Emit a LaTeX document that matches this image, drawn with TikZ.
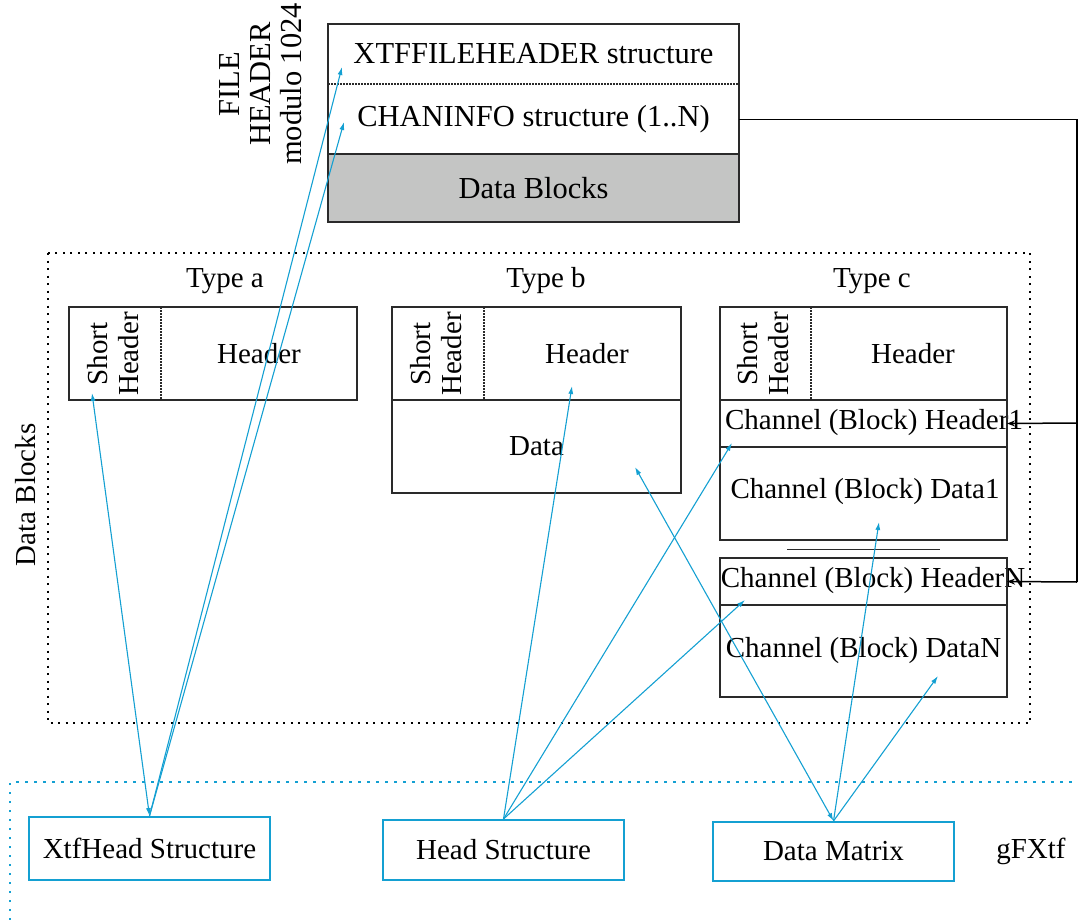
\documentclass[tikz,border=0pt]{standalone}
\usepackage{fontspec}
\setmainfont{Liberation Serif}
\usetikzlibrary{arrows.meta}
\definecolor{cy}{HTML}{14A0D2}
\definecolor{gb}{HTML}{C4C5C4}
\definecolor{ln}{HTML}{2A2A2A}
\begin{document}
\begin{tikzpicture}[x=1pt,y=-1pt,
  font=\fontsize{29}{31}\selectfont,
  bigfont/.style={font=\fontsize{30.5}{31}\selectfont},
  cell/.style={rectangle, inner sep=0pt, outer sep=0pt},
  txt/.style={inner sep=0pt, align=center},
  box/.style={draw=ln, line width=1.3pt},
  fdot/.style={draw=ln, line width=1.3pt, dash pattern=on 1.5pt off 1.5pt},
  bigdot/.style={draw=black, line width=2pt, dash pattern=on 2pt off 5.5pt},
  cydot/.style={draw=cy, line width=2.5pt, dash pattern=on 2.5pt off 6.5pt},
  bbox/.style={rectangle, draw=cy, line width=2pt, minimum width=241pt, inner sep=0pt},
  carrow/.style={draw=cy, line width=1.1pt, >={Latex[length=8pt,width=5pt]}},
  barrow/.style={draw=black, line width=1.5pt, >={Stealth[length=8pt,width=6pt]}}]
\useasboundingbox (0,0) rectangle (1078,920);

% ---------- file header box ----------
\node[cell, bigfont, minimum width=411pt, minimum height=60pt] (xtfh) at (533.5,54) {XTFFILEHEADER structure};
\node[cell, bigfont, minimum width=411pt, minimum height=69pt] (chan) at (533.5,119.5) {CHANINFO structure (1..N)};
\node[cell, bigfont, fill=gb, minimum width=411pt, minimum height=68pt] (dblk) at (533.5,188) {Data Blocks};
\draw[box] (xtfh.north west) rectangle (dblk.south east);
\draw[fdot] (xtfh.south west) -- (xtfh.south east);
\draw[box] (chan.south west) -- (chan.south east);
\node[txt, bigfont, rotate=90] (fhl) at (261,84) {FILE\\HEADER\\modulo 1024};

% ---------- data blocks region ----------
\node[cell, minimum width=982pt, minimum height=470pt] (dbk) at (539,488) {};
\draw[bigdot] (dbk.north west) rectangle (dbk.south east);
\node[txt, rotate=90] (dbl) at (26,495) {Data Blocks};

% type a
\node[txt] (ta) at (225,281) {Type a};
\node[cell, minimum width=92pt, minimum height=93pt] (shorta) at (115,353.5) {};
\node[cell, minimum width=196pt, minimum height=93pt] (heada) at (259,353.5) {Header};
\node[txt, rotate=90] (sha) at (113,354) {Short\\Header};
\draw[box] (shorta.north west) rectangle (heada.south east);
\draw[fdot] (shorta.north east) -- (shorta.south east);

% type b
\node[txt] (tb) at (546,281) {Type b};
\node[cell, minimum width=92pt, minimum height=93pt] (shortb) at (438,353.5) {};
\node[cell, minimum width=197pt, minimum height=93pt] (headb) at (587,353.5) {Header};
\node[txt, rotate=90] (shb) at (436,354) {Short\\Header};
\node[cell, minimum width=289pt, minimum height=93pt] (datab) at (536.5,446.5) {Data};
\draw[box] (shortb.north west) rectangle (datab.south east);
\draw[box] (datab.north west) -- (datab.north east);
\draw[fdot] (shortb.north east) -- (shortb.south east);

% type c
\node[txt] (tc) at (872,281) {Type c};
\node[cell, minimum width=91pt, minimum height=93pt] (shortc) at (765.5,353.5) {};
\node[cell, minimum width=196pt, minimum height=93pt] (headc) at (913,353.5) {Header};
\node[txt, rotate=90] (shc) at (763,354) {Short\\Header};
\node[cell, minimum width=287pt, minimum height=47pt] (ch1) at (863.5,423.5) {};
\node[txt] (ch1t) at (874,423) {Channel (Block) Header1};
\node[cell, minimum width=287pt, minimum height=93pt] (cd1) at (863.5,493.5) {};
\node[txt] (cd1t) at (865,492) {Channel (Block) Data1};
\draw[box] (shortc.north west) rectangle (cd1.south east);
\draw[box] (ch1.north west) -- (ch1.north east);
\draw[box] (ch1.south west) -- (ch1.south east);
\draw[fdot] (shortc.north east) -- (shortc.south east);
\coordinate (sepL) at (787,549);
\coordinate (sepR) at (940,549);
\draw[draw=ln, line width=1pt] (sepL) -- (sepR);
\node[cell, minimum width=287pt, minimum height=47pt] (chN) at (863.5,581.5) {};
\node[txt] (chNt) at (873,581) {Channel (Block) HeaderN};
\node[cell, minimum width=287pt, minimum height=92pt] (cdN) at (863.5,651) {Channel (Block) DataN};
\draw[box] (chN.north west) rectangle (cdN.south east);
\draw[box] (chN.south west) -- (chN.south east);

% black bus from CHANINFO
\coordinate (r1) at (1077,423);
\coordinate (rN) at (1077,582);
\draw[barrow] (chan.east) -| (rN);
\draw[barrow,->] (r1) -- (ch1.east);
\draw[barrow,->] (rN) -- (chN.east);

% ---------- gFXtf region ----------
\coordinate (gbl) at (10,920);
\coordinate (gtr) at (1078,782);
\draw[cydot] (gbl) |- (gtr);
\node[bbox, minimum height=63pt] (xtf) at (149.5,848.5) {XtfHead Structure};
\node[bbox, minimum height=60pt] (head) at (503.5,850) {Head Structure};
\node[bbox, minimum height=59pt] (dm) at (833.5,851.5) {Data Matrix};
\node[txt] (gfx) at (1031,851) {gFXtf};

% ---------- cyan connectors ----------
\coordinate (tA) at (92,393);
\coordinate (tX) at (342,67);
\coordinate (tC) at (344,122);
\coordinate (tBh) at (572,386);
\coordinate (tBd) at (635,467);
\coordinate (tH1) at (732,443);
\coordinate (tHN) at (745,600);
\coordinate (tD1) at (879,522);
\coordinate (tDN) at (938,676);
\draw[carrow,<->] (xtf.north) -- (tA);
\draw[carrow,->] (xtf.north) -- (tX);
\draw[carrow,->] (xtf.north) -- (tC);
\draw[carrow,->] (head.north) -- (tBh);
\draw[carrow,->] (head.north) -- (tH1);
\draw[carrow,->] (head.north) -- (tHN);
\draw[carrow,<->] (dm.north) -- (tBd);
\draw[carrow,->] (dm.north) -- (tD1);
\draw[carrow,->] (dm.north) -- (tDN);
\end{tikzpicture}
\end{document}
